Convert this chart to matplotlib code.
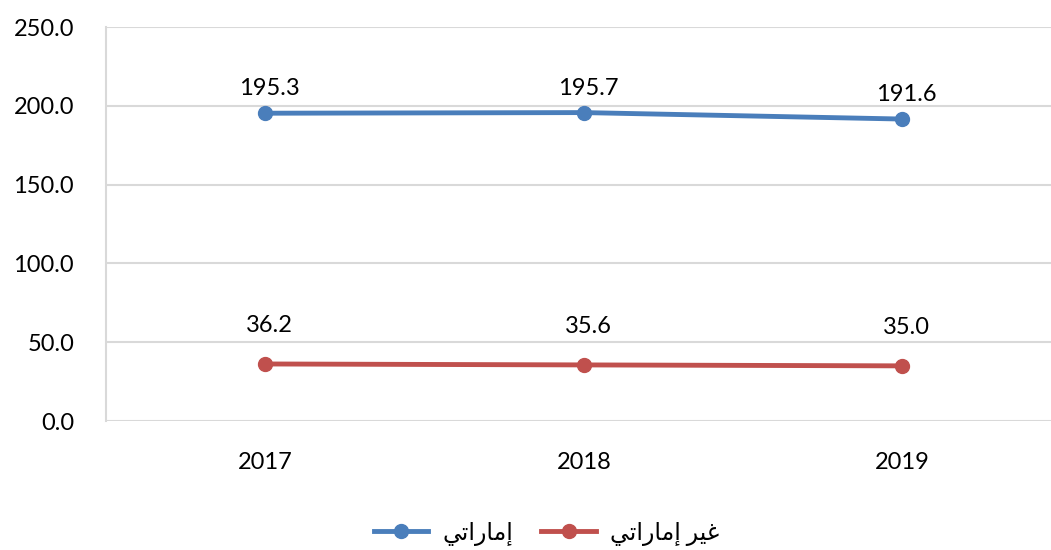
import matplotlib.pyplot as plt

plt.rcParams['font.family'] = ['Lato', 'DejaVu Sans']

years = ["2017", "2018", "2019"]
emirati = [195.3, 195.7, 191.6]
non_emirati = [36.2, 35.6, 35.0]
yticks = [0, 50, 100, 150, 200, 250]

# Arabic labels written in presentation forms, visual order (matplotlib does no shaping)
lbl_emirati = "\uFEF2\uFE97\uFE8D\uFEAD\uFE8E\uFEE3\uFE87"          # إماراتي
lbl_non = "\uFEF2\uFE97\uFE8D\uFEAD\uFE8E\uFEE3\uFE87 \uFEAE\uFEF4\uFECF"  # غير إماراتي

blue = "#4A7EBB"
red = "#C0504D"

fig = plt.figure(figsize=(10.51, 5.5), dpi=100)
ax = fig.add_axes([0.1009, 0.2345, 0.8991, 0.7164])

x = range(len(years))
ax.plot(x, emirati, color=blue, lw=3.5, marker='o', ms=10, label=lbl_emirati)
ax.plot(x, non_emirati, color=red, lw=3.5, marker='o', ms=10, label=lbl_non)

for i, v in enumerate(emirati):
    ax.annotate(f"{v:.1f}", (i, v), xytext=(3, 10), textcoords='offset points',
                ha='center', va='bottom', fontsize=17, color='black')
for i, v in enumerate(non_emirati):
    ax.annotate(f"{v:.1f}", (i, v), xytext=(3, 20), textcoords='offset points',
                ha='center', va='bottom', fontsize=17, color='black')

ax.set_xlim(-0.5, 2.467)
ax.set_ylim(0, 250)
ax.set_yticks(yticks)
ax.set_yticklabels([f"{t:.1f}" for t in yticks], fontsize=17)
ax.set_xticks(list(x))
ax.set_xticklabels(years, fontsize=17)
ax.tick_params(axis='y', length=0, pad=23)
ax.tick_params(axis='x', length=0, pad=22)

ax.grid(axis='y', color='#D9D9D9', lw=1.5)
ax.set_axisbelow(True)
for s in ['top', 'right', 'bottom']:
    ax.spines[s].set_visible(False)
ax.spines['left'].set_color('#D9D9D9')
ax.spines['left'].set_linewidth(1.5)

fig.legend(loc='center', bbox_to_anchor=(0.52, 0.03), ncol=2, frameon=False,
           fontsize=17, handlelength=2.3, handletextpad=0.6, columnspacing=1.2)

fig.savefig("out.png", dpi=100)
